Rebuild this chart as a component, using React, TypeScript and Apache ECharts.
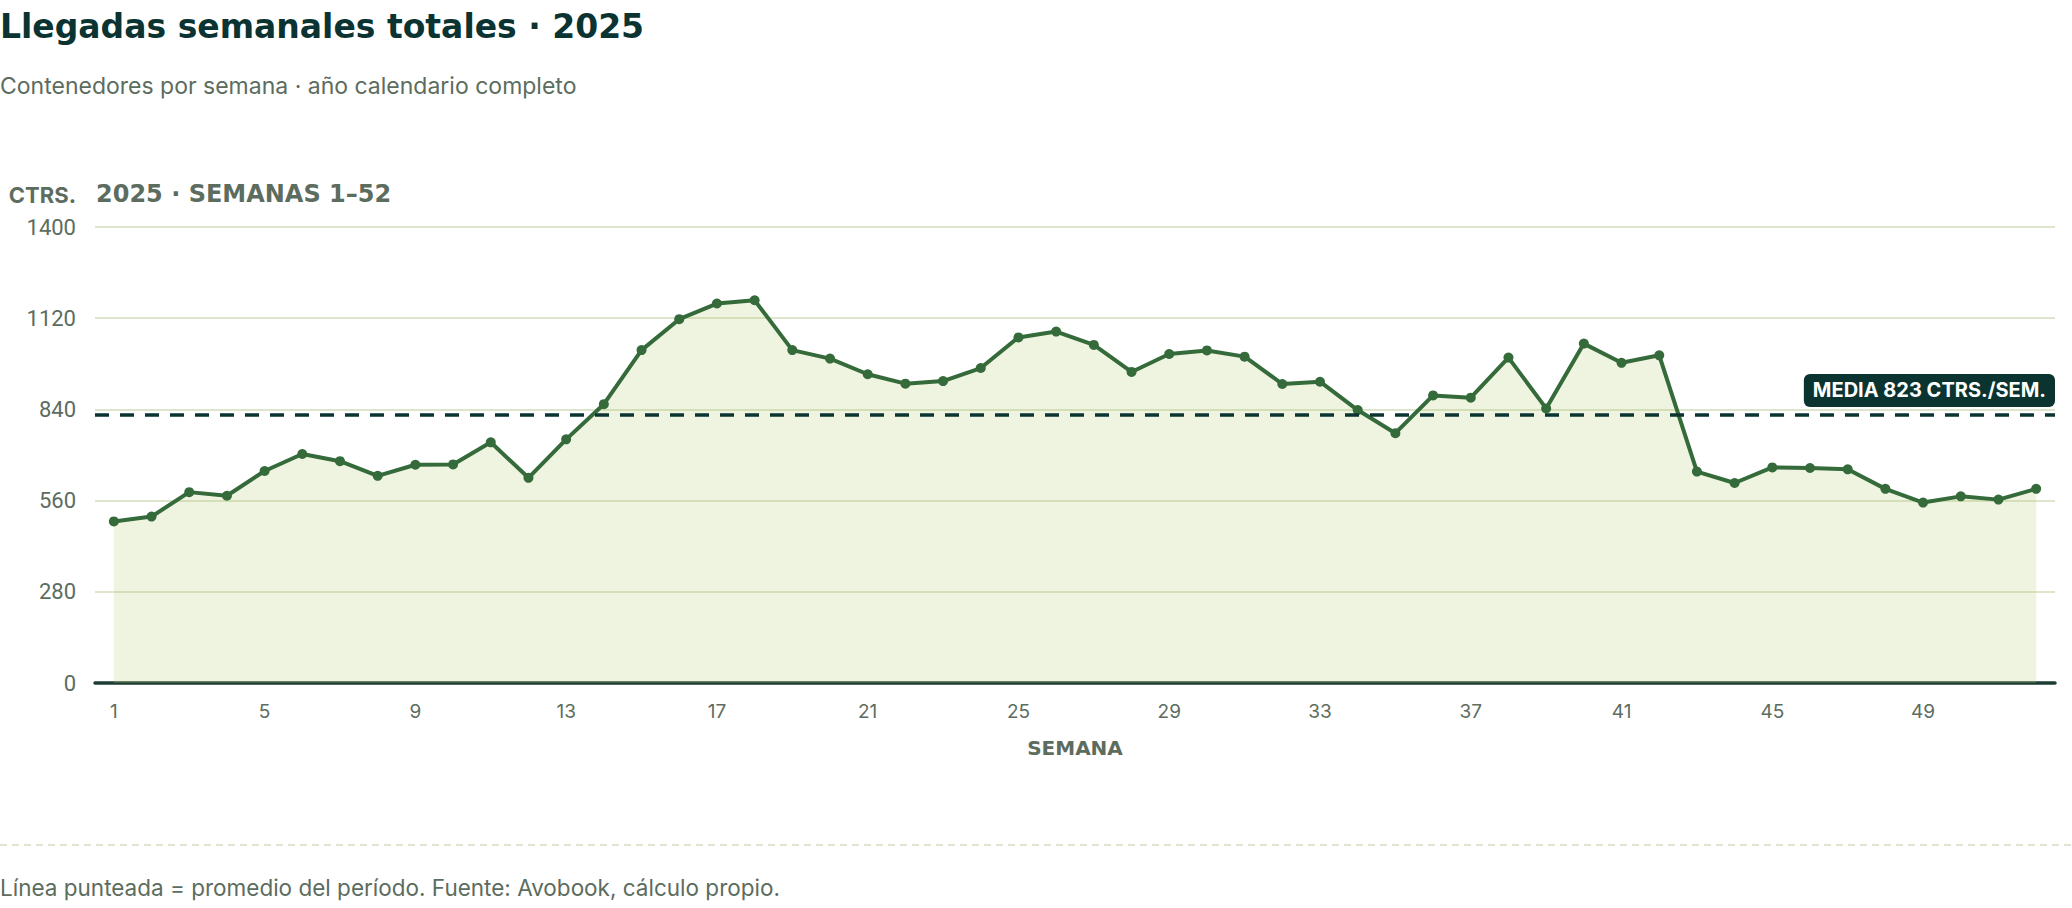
import React, { useEffect, useRef } from "react";
import * as echarts from "echarts";

const weeks: string[] = Array.from({ length: 52 }, (_, i) => String(i + 1));
const arrivals: number[] = [
  496, 511, 586, 575, 651, 703, 681, 636, 670, 671, 739, 630, 748,
  856, 1022, 1117, 1165, 1175, 1022, 996, 948, 919, 927, 967, 1061, 1079,
  1038, 955, 1010, 1021, 1002, 918, 925, 838, 767, 883, 876, 999, 843,
  1042, 983, 1006, 649, 614, 662, 660, 656, 596, 554, 573, 563, 596,
];
const meanValue = 823;
const yTicks = { min: 0, max: 1400, interval: 280 };

const TITLE = "Llegadas semanales totales · 2025";
const SUBTITLE = "Contenedores por semana · año calendario completo";
const UNIT = "CTRS.";
const PANEL = "2025 · SEMANAS 1–52";
const XNAME = "SEMANA";
const MEAN_LABEL = "MEDIA 823 CTRS./SEM.";
const FOOTER = "Línea punteada = promedio del período. Fuente: Avobook, cálculo propio.";

export default function App() {
  const ref = useRef<HTMLDivElement>(null);
  useEffect(() => {
    document.body.style.margin = "0";
    if (!ref.current) return;
    const chart = echarts.init(ref.current, undefined, { renderer: "svg" });
    const muted = "#5c6c5e";
    chart.setOption({
      animation: false,
      backgroundColor: "#ffffff",
      grid: { left: 95, right: 17, top: 227, bottom: 225 },
      xAxis: {
        type: "category",
        data: weeks,
        boundaryGap: true,
        axisLine: { lineStyle: { color: "#1c3d33", width: 3.5 } },
        axisTick: { show: false },
        axisLabel: {
          interval: 3,
          margin: 19,
          color: muted,
          fontFamily: "Inter",
          fontSize: 19,
        },
        name: XNAME,
        nameLocation: "middle",
        nameGap: 55,
        nameTextStyle: {
          color: muted,
          fontFamily: "DejaVu Sans",
          fontWeight: "bold",
          fontSize: 20,
        },
      },
      yAxis: {
        type: "value",
        min: yTicks.min,
        max: yTicks.max,
        interval: yTicks.interval,
        axisLine: { show: false },
        axisTick: { show: false },
        axisLabel: {
          margin: 19,
          color: muted,
          fontFamily: "Roboto",
          fontSize: 22,
          formatter: (v: number) => String(v),
        },
        splitLine: { lineStyle: { color: "#dde5cc", width: 2 } },
      },
      series: [
        {
          type: "line",
          data: arrivals,
          symbol: "circle",
          symbolSize: 10,
          lineStyle: { color: "#356a3a", width: 4 },
          itemStyle: { color: "#356a3a" },
          areaStyle: { color: "rgba(180,205,110,0.3)" },
          z: 3,
          markLine: {
            silent: true,
            symbol: "none",
            lineStyle: { color: "#0b3330", width: 3.5, type: [14, 11] },
            data: [{ yAxis: meanValue }],
            label: {
              position: "insideEndTop",
              formatter: MEAN_LABEL,
              color: "#ffffff",
              backgroundColor: "#0b3330",
              borderRadius: 6,
              padding: [6, 9],
              fontFamily: "Inter",
              fontWeight: "bold",
              fontSize: 20,
              lineHeight: 21,
              distance: [0, 8],
            },
          },
        },
      ],
      graphic: [
        {
          type: "text",
          x: 0,
          y: 26,
          style: {
            text: TITLE,
            fill: "#0b3331",
            font: "bold 33px 'DejaVu Sans'",
            textAlign: "left",
            textVerticalAlign: "middle",
          },
        },
        {
          type: "text",
          x: 0,
          y: 86,
          style: {
            text: SUBTITLE,
            fill: muted,
            font: "400 23px Inter",
            textAlign: "left",
            textVerticalAlign: "middle",
          },
        },
        {
          type: "text",
          x: 76,
          y: 195,
          style: {
            text: UNIT,
            fill: muted,
            font: "700 22px Inter",
            textAlign: "right",
            textVerticalAlign: "middle",
          },
        },
        {
          type: "text",
          x: 96,
          y: 194,
          style: {
            text: PANEL,
            fill: muted,
            font: "bold 24px 'DejaVu Sans'",
            textAlign: "left",
            textVerticalAlign: "middle",
          },
        },
        {
          type: "line",
          shape: { x1: 0, y1: 845, x2: 2072, y2: 845 },
          style: { stroke: "#dfe5d3", lineWidth: 2, lineDash: [7, 5] },
        },
        {
          type: "text",
          x: 0,
          y: 887,
          style: {
            text: FOOTER,
            fill: muted,
            font: "400 22.5px Inter",
            textAlign: "left",
            textVerticalAlign: "middle",
          },
        },
      ],
    });
    return () => chart.dispose();
  }, []);
  return <div ref={ref} style={{ width: 2072, height: 908 }} />;
}
